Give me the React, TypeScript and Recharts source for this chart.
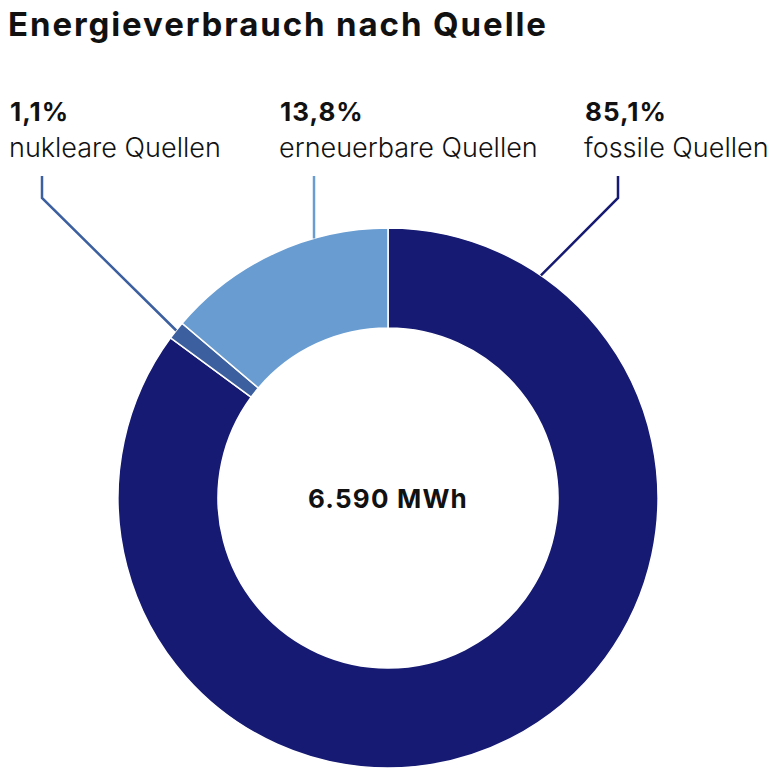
import { PieChart, Pie, Cell } from "recharts";

const sources = ["fossile Quellen", "nukleare Quellen", "erneuerbare Quellen"];
const shares = [85.1, 1.1, 13.8];
const colors = ["#161a72", "#3c5fa0", "#699dd2"];
const totalLabel = "6.590 MWh";

// where each leader line leaves the ring (deg, recharts convention) and where its text sits
const labelLayout = [
  { anchor: 55.5, elbowX: 618, textX: 585 },
  { anchor: null, elbowX: 42, textX: 10 },
  { anchor: 106, elbowX: 314, textX: 280 },
];

const chartData = sources.map((name, i) => ({ name, value: shares[i] }));

const RAD = Math.PI / 180;
const FONT = "Inter, 'Noto Sans', sans-serif";

function renderLabel(props: any) {
  const { cx, cy, outerRadius, midAngle, index, value, name } = props;
  const layout = labelLayout[index];
  const angle = layout.anchor ?? midAngle;
  const sx = cx + outerRadius * Math.cos(angle * RAD);
  const sy = cy - outerRadius * Math.sin(angle * RAD);
  const elbowY = 198;
  const topY = 176;
  const color = colors[index];
  const points =
    Math.abs(sx - layout.elbowX) < 3
      ? `${layout.elbowX},${sy} ${layout.elbowX},${topY}`
      : `${sx},${sy} ${layout.elbowX},${elbowY} ${layout.elbowX},${topY}`;
  return (
    <g key={`lbl-${index}`}>
      <polyline points={points} fill="none" stroke={color} strokeWidth={2.5} />
      <text
        x={layout.textX}
        y={121}
        fontFamily={FONT}
        fontSize={26}
        fontWeight={700}
        letterSpacing={1}
        fill="#111"
      >
        {`${String(value).replace(".", ",")}%`}
      </text>
      <text
        x={layout.textX - 1}
        y={157}
        fontFamily={FONT}
        fontSize={27}
        fontWeight={300}
        fill="#111"
      >
        {name}
      </text>
    </g>
  );
}

export default function App() {
  return (
    <div style={{ position: "absolute", top: 0, left: 0, width: 784, height: 784, background: "#fff" }}>
      <div
        style={{
          position: "absolute",
          top: 4,
          left: 8,
          fontFamily: FONT,
          fontSize: 33,
          fontWeight: 650,
          color: "#111",
          letterSpacing: 1.9,
          lineHeight: "40px",
        }}
      >
        Energieverbrauch nach Quelle
      </div>
      <PieChart
        width={784}
        height={784}
        margin={{ top: 0, right: 0, bottom: 0, left: 0 }}
        style={{ position: "absolute", top: 0, left: 0 }}
      >
        <Pie
          data={chartData}
          dataKey="value"
          nameKey="name"
          cx={388}
          cy={498}
          innerRadius={170}
          outerRadius={270}
          startAngle={90}
          endAngle={-270}
          stroke="#fff"
          strokeWidth={1.5}
          label={renderLabel}
          labelLine={false}
          isAnimationActive={false}
        >
          {chartData.map((d, i) => (
            <Cell key={d.name} fill={colors[i]} />
          ))}
        </Pie>
        <text
          x={388}
          y={498}
          textAnchor="middle"
          dominantBaseline="central"
          fontFamily={FONT}
          fontSize={26}
          fontWeight={700}
          letterSpacing={1.2}
          fill="#111"
        >
          {totalLabel}
        </text>
      </PieChart>
    </div>
  );
}
